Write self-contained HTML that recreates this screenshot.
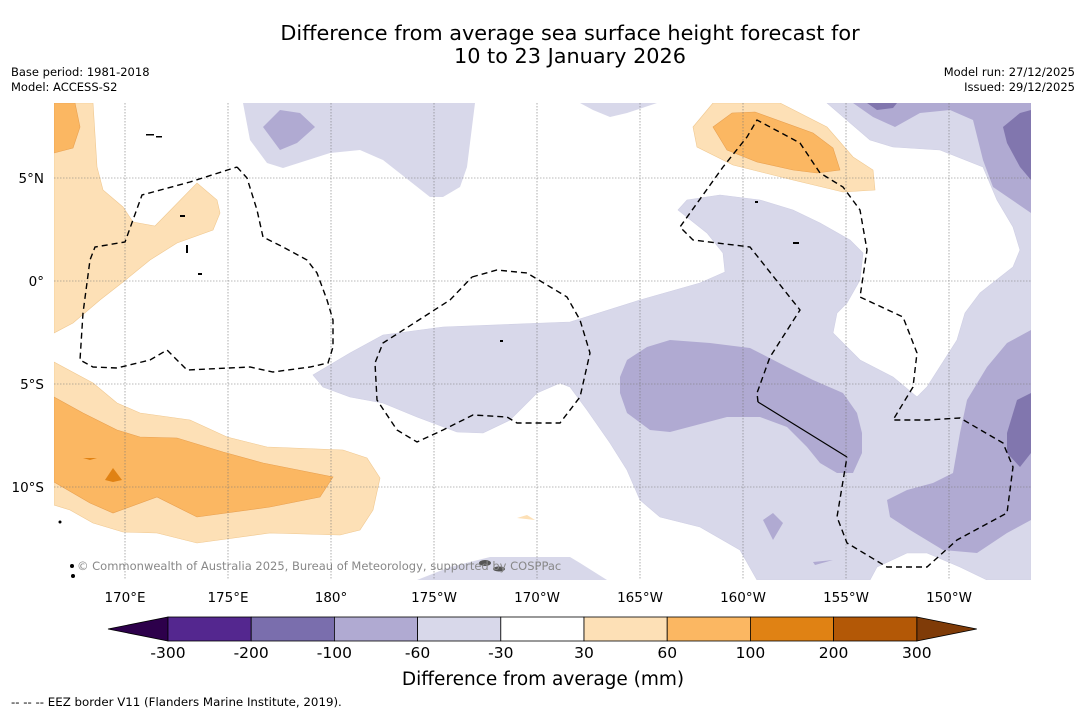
<!DOCTYPE html>
<html><head><meta charset="utf-8">
<style>
body{margin:0;background:#fff;font-family:"DejaVu Sans","Liberation Sans",sans-serif;}
#wrap{position:relative;width:1085px;height:713px;overflow:hidden;}
.t{position:absolute;white-space:nowrap;color:#000;}
</style></head>
<body>
<div id="wrap">
<div class="t" style="left:0;width:1140px;text-align:center;top:22px;font-size:20.8px;line-height:23px;">Difference from average sea surface height forecast for<br>10 to 23 January 2026</div>
<div class="t" style="left:11px;top:65px;font-size:11.5px;line-height:15px;">Base period: 1981-2018<br>Model: ACCESS-S2</div>
<div class="t" style="right:10px;top:65px;font-size:11.5px;line-height:15px;text-align:right;">Model run: 27/12/2025<br>Issued: 29/12/2025</div>
<svg id="svg" width="1085" height="713" style="position:absolute;left:0;top:0">
<defs><clipPath id="mc"><rect x="54" y="103" width="977" height="477"/></clipPath></defs>
<g clip-path="url(#mc)">
<g stroke-width="0.6">
<polygon fill="#d8d8ea" stroke="#cfcfe4" points="570,322 443,327 383,335 350,353 313,375 323,387 350,397 383,403 417,417 457,432 483,433 510,420 537,393 560,383 570,387 587,410 610,443 627,470 640,500 660,517 700,527 740,550 757,580 870,580 877,567 907,553 927,553 960,567 987,580 1031,580 1031,103 827,103 870,140 893,147 940,150 983,167 997,200 1013,227 1020,250 1013,267 980,293 965,313 957,340 927,387 917,397 893,377 860,360 833,333 837,313 847,303 860,280 863,253 850,240 820,223 793,210 760,200 720,195 687,200 678,210 707,233 723,253 725,272 700,283 640,300"/>
<polygon fill="#d8d8ea" points="417,580 450,567 490,557 570,557 580,563 607,580"/>
<polygon fill="#d8d8ea" points="243,103 475,103 467,167 460,187 443,197 430,197 383,160 360,150 330,153 283,168 267,163 250,140"/>
<polygon fill="#d8d8ea" points="580,103 657,103 627,113 610,117 593,110"/>
<polygon fill="#b0aad2" points="263,127 280,110 300,113 315,127 297,143 280,150"/>
<polygon fill="#b0aad2" points="620,377 627,360 647,347 670,340 710,343 750,348 787,367 813,380 843,393 857,413 862,433 862,453 853,473 837,473 820,463 807,447 787,427 760,417 727,417 670,432 650,430 627,413 620,393"/>
<polygon fill="#b0aad2" points="887,500 907,490 933,483 953,473 960,433 967,400 987,367 1007,343 1031,330 1031,520 1007,533 977,553 943,550 910,530 890,517"/>
<polygon fill="#b0aad2" points="763,520 773,513 783,523 773,540"/>
<polygon fill="#b0aad2" points="813,562 833,560 815,565"/>
<polygon fill="#b0aad2" points="853,103 1031,103 1031,213 993,187 983,160 973,120 950,110 920,113 895,127 873,117"/>
<polygon fill="#8176ae" points="867,103 897,103 893,108 877,110"/>
<polygon fill="#8176ae" points="1003,127 1020,113 1031,110 1031,180 1020,167 1007,143"/>
<polygon fill="#8176ae" points="1007,433 1017,400 1031,393 1031,453 1020,467 1007,453"/>
<polygon fill="#fde0b6" stroke="#f0c890" points="693,127 713,103 780,103 827,127 853,157 873,170 875,190 843,192 793,180 733,165 697,147"/>
<polygon fill="#fbb762" stroke="#e8a050" points="713,127 732,113 755,112 813,133 833,148 840,170 817,173 793,170 757,162 727,150"/>
<polygon fill="#fde0b6" stroke="#f0c890" points="54,103 93,103 97,167 103,190 123,207 133,222 155,226 197,183 217,200 220,213 213,230 177,243 150,260 123,282 100,300 73,323 54,333"/>
<polygon fill="#fbb762" stroke="#e8a050" points="54,103 75,103 80,127 73,148 54,153"/>
<polygon fill="#fde0b6" stroke="#f0c890" points="54,362 93,383 117,403 140,413 190,420 227,437 267,447 343,450 367,458 380,478 373,510 360,530 340,535 270,533 197,543 157,533 123,532 93,523 70,510 54,505"/>
<polygon fill="#fbb762" stroke="#e8a050" points="54,397 83,413 117,430 140,437 177,438 223,452 263,463 333,477 320,497 270,507 197,517 157,497 113,513 90,503 54,482"/>
<polygon fill="#e08214" points="105,480 113,468 122,480 113,482"/>
<polygon fill="#e08214" points="83,458 97,458 90,460"/>
<polygon fill="#fde0b6" points="517,518 527,515 535,520"/>
</g>
<g id="grid"></g>
<g fill="none" stroke="#000" stroke-width="1.4" stroke-dasharray="6,4">
<polyline points="237,167 247,178 257,210 263,237 283,247 307,260 317,273 327,300 333,320 333,347 328,363 310,367 273,372 250,367 187,370 167,350 150,360 117,368 93,367 80,360 83,313 90,260 95,247 125,242 142,195 190,182 237,167"/>
<polyline points="472,277 497,270 527,273 567,297 580,320 590,353 580,397 560,423 517,423 507,417 473,415 443,430 417,442 397,430 377,400 375,363 383,343 450,300 472,277"/>
<polyline points="758,402 757,393 770,357 800,310 750,247 693,240 680,227 723,167 747,137 757,120 800,143 820,173 843,187 860,210 867,250 860,297 903,317 917,353 913,387 893,420 927,420 960,418 1003,443 1013,467 1007,513 957,540 927,567 887,567 847,543 837,517 847,457"/>
<line x1="758" y1="402" x2="847" y2="457" stroke-dasharray="none" stroke-width="1.2"/>
</g>
<g fill="#000">
<ellipse cx="485" cy="563" rx="6" ry="3" fill="#555"/><ellipse cx="499" cy="569" rx="6" ry="2.5" fill="#555"/>
<circle cx="72" cy="566" r="2"/><circle cx="73" cy="576" r="2"/><circle cx="60" cy="522" r="1.5"/>
<rect x="146" y="134" width="8" height="1.5"/><rect x="156" y="136" width="6" height="1.5"/><rect x="180" y="215" width="5" height="2"/><rect x="186" y="245" width="2" height="8"/><rect x="198" y="273" width="4" height="2"/><rect x="793" y="242" width="6" height="2"/><rect x="755" y="201" width="3" height="2"/><rect x="500" y="340" width="3" height="2"/>
</g>
</g>
<g id="ticks" font-size="13.5" font-family="DejaVu Sans, Liberation Sans, sans-serif"></g>
<text x="77" y="570" font-size="11.5" fill="#888" font-family="DejaVu Sans, Liberation Sans, sans-serif">© Commonwealth of Australia 2025, Bureau of Meteorology, supported by COSPPac</text>
<g id="cbar"></g>
<text x="543" y="685" text-anchor="middle" font-size="18.5" font-family="DejaVu Sans, Liberation Sans, sans-serif">Difference from average (mm)</text>
<text x="11" y="706" font-size="11.8" font-family="DejaVu Sans, Liberation Sans, sans-serif">--  --  -- EEZ border V11 (Flanders Marine Institute, 2019).</text>
</svg>
</div>
<script>
const lonTicks=[170,175,180,-175,-170,-165,-160,-155,-150];
const lonLabels=["170°E","175°E","180°","175°W","170°W","165°W","160°W","155°W","150°W"];
const latTicks=[5,0,-5,-10];
const latLabels=["5°N","0°","5°S","10°S"];
const cbLevels=[-300,-200,-100,-60,-30,30,60,100,200,300];
const cbColors=["#54278f","#7a6ead","#b0aad2","#d8d8ea","#ffffff","#fde0b6","#fbb762","#e08214","#b35806"];
const cbUnder="#2d004b", cbOver="#7f3b08";
const NS="http://www.w3.org/2000/svg";
function xLon(l){const d=l<0?l+360:l;return 125+(d-170)*20.6;}
function yLat(v){return 281-v*20.6;}
function mk(t,a,p){const e=document.createElementNS(NS,t);for(const k in a)e.setAttribute(k,a[k]);p.appendChild(e);return e;}
const grid=document.getElementById('grid'),ticks=document.getElementById('ticks');
lonTicks.forEach((l,i)=>{const x=xLon(l);
 const g=mk('line',{x1:x,x2:x,y1:103,y2:580,stroke:'#777','stroke-width':0.6,'stroke-dasharray':'1.5,1.5'},grid);
 
 
 const t=mk('text',{x:x,y:602,'text-anchor':'middle'},ticks);t.textContent=lonLabels[i];
 
 });
latTicks.forEach((v,i)=>{const y=yLat(v);
 const g=mk('line',{x1:54,x2:1031,y1:y,y2:y,stroke:'#777','stroke-width':0.6,'stroke-dasharray':'1.5,1.5'},grid);
 
 
 const t=mk('text',{x:44,y:y+5,'text-anchor':'end'},ticks);t.textContent=latLabels[i];
 
 });
const cb=document.getElementById('cbar');
const x0=168,w=83.2,y0=617,h=24;
const u=mk('polygon',{points:`108,${y0+h/2} ${x0},${y0} ${x0},${y0+h}`,fill:cbUnder,stroke:'#000','stroke-width':0.8},cb);


const xe=x0+w*cbColors.length;
const o=mk('polygon',{points:`${xe},${y0} ${xe+60},${y0+h/2} ${xe},${y0+h}`,fill:cbOver,stroke:'#000','stroke-width':0.8},cb);


cbColors.forEach((c,i)=>{const r=mk('rect',{x:x0+i*w,y:y0,width:w,height:h,fill:c,stroke:'#000','stroke-width':0.8},cb);
 
 });
cbLevels.forEach((v,i)=>{const t=mk('text',{x:x0+i*w,y:658,'text-anchor':'middle','font-size':15.5,'font-family':'DejaVu Sans, Liberation Sans, sans-serif'},cb);
 t.textContent=v;
 
 });
</script>
</body></html>
